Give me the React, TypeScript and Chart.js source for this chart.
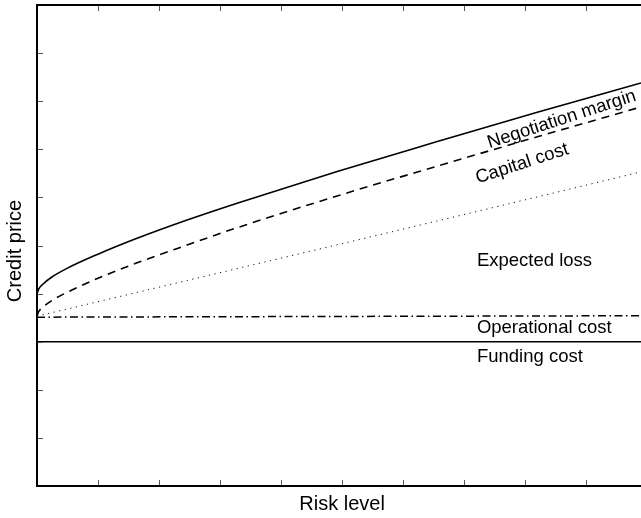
import React, { useEffect, useRef } from 'react';
import { Chart, registerables } from 'chart.js';

Chart.register(...registerables);

// ---- data ----
const riskPoints = [0, 0.03, 0.1, 0.25, 0.5, 1.0, 1.64, 2.46, 3.28, 4.92, 6.56, 8.2, 9.9];
const negotiationMargin = [4.0, 4.1, 4.2, 4.35, 4.53, 4.82, 5.15, 5.53, 5.88, 6.54, 7.16, 7.77, 8.38];
const capitalCost = [3.53, 3.63, 3.72, 3.86, 4.03, 4.32, 4.64, 5.01, 5.37, 6.03, 6.65, 7.26, 7.88];
const lossPoints = [0, 3.28, 6.56, 9.9];
const expectedLoss = [3.53, 4.52, 5.51, 6.53];
const flatPoints = [0, 9.9];
const operationalCost = [3.51, 3.54];
const fundingCost = [3.0, 3.0];
const xTicks = [1, 2, 3, 4, 5, 6, 7, 8, 9];
const yTicks = [0, 1, 2, 3, 4, 5, 6, 7, 8, 9, 10];
const xTitle = 'Risk level';
const yTitle = 'Credit price';

// annotation texts (placement kept separately)
const labelTexts = ['Negotiation margin', 'Capital cost', 'Expected loss', 'Operational cost', 'Funding cost'];
const labelPlacement = [
  { x: 8.6, y: 7.62, rot: -18, align: 'center' },
  { x: 7.95, y: 6.7, rot: -18, align: 'center' },
  { x: 7.21, y: 4.68, rot: 0, align: 'left' },
  { x: 7.21, y: 3.28, rot: 0, align: 'left' },
  { x: 7.21, y: 2.69, rot: 0, align: 'left' },
];

const W = 641;
const H = 518;
const FONT = '"Liberation Sans", Arial, Helvetica, sans-serif';

const pts = (xs: number[], ys: number[]) => xs.map((x, i) => ({ x, y: ys[i] }));

const framePlugin = {
  id: 'frame',
  afterDraw(chart: any) {
    const { ctx, chartArea, scales } = chart;
    const { left, top, right, bottom } = chartArea;
    const xs = scales.x;
    const ys = scales.y;
    ctx.save();
    // ticks
    ctx.strokeStyle = '#555';
    ctx.lineWidth = 1;
    ctx.beginPath();
    yTicks.forEach((v) => {
      const py = Math.round(ys.getPixelForValue(v)) + 0.5;
      ctx.moveTo(left, py);
      ctx.lineTo(left + 6, py);
    });
    xTicks.forEach((v) => {
      const px = Math.round(xs.getPixelForValue(v)) + 0.5;
      ctx.moveTo(px, bottom);
      ctx.lineTo(px, bottom - 6);
      ctx.moveTo(px, top);
      ctx.lineTo(px, top + 6);
    });
    ctx.stroke();
    // frame
    ctx.strokeStyle = '#000';
    ctx.lineWidth = 2;
    ctx.beginPath();
    ctx.moveTo(right + 2, top);
    ctx.lineTo(left, top);
    ctx.lineTo(left, bottom);
    ctx.lineTo(right + 2, bottom);
    ctx.stroke();
    // axis titles
    ctx.fillStyle = '#000';
    ctx.font = `20px ${FONT}`;
    ctx.textAlign = 'center';
    ctx.textBaseline = 'middle';
    ctx.fillText(xTitle, xs.getPixelForValue(5), 504);
    ctx.save();
    ctx.translate(15, 251);
    ctx.rotate(-Math.PI / 2);
    ctx.fillText(yTitle, 0, 0);
    ctx.restore();
    // annotations
    ctx.font = `18.5px ${FONT}`;
    labelTexts.forEach((t, i) => {
      const p = labelPlacement[i];
      ctx.save();
      ctx.translate(xs.getPixelForValue(p.x), ys.getPixelForValue(p.y));
      ctx.rotate((p.rot * Math.PI) / 180);
      ctx.textAlign = p.align as CanvasTextAlign;
      ctx.textBaseline = 'middle';
      ctx.fillText(t, 0, 0);
      ctx.restore();
    });
    ctx.restore();
  },
};

export default function App() {
  const ref = useRef<HTMLCanvasElement | null>(null);
  useEffect(() => {
    if (!ref.current) return;
    const common = { pointRadius: 0, borderColor: '#000', fill: false, cubicInterpolationMode: 'monotone' as const };
    const chart = new Chart(ref.current, {
      type: 'line',
      data: {
        datasets: [
          { ...common, label: 'Negotiation margin', data: pts(riskPoints, negotiationMargin), borderWidth: 1.6 },
          { ...common, label: 'Capital cost', data: pts(riskPoints, capitalCost), borderWidth: 1.6, borderDash: [8, 6] },
          { ...common, label: 'Expected loss', data: pts(lossPoints, expectedLoss), borderWidth: 1, borderDash: [1.2, 4.5], borderColor: '#111' },
          { ...common, label: 'Operational cost', data: pts(flatPoints, operationalCost), borderWidth: 1.5, borderDash: [8, 3.5, 1.5, 3.5] },
          { ...common, label: 'Funding cost', data: pts(flatPoints, fundingCost), borderWidth: 1.6 },
        ],
      },
      options: {
        responsive: false,
        animation: false,
        layout: { padding: { left: 37, top: 5, right: 0, bottom: 32 } },
        plugins: { legend: { display: false }, tooltip: { enabled: false } },
        scales: {
          x: { type: 'linear', min: 0, max: 9.9, display: false },
          y: { type: 'linear', min: 0, max: 10, display: false },
        },
      },
      plugins: [framePlugin],
    });
    return () => chart.destroy();
  }, []);
  return (
    <div style={{ position: 'fixed', left: 0, top: 0, width: W, height: H, background: '#fff' }}>
      <canvas ref={ref} width={W} height={H} style={{ width: W, height: H, display: 'block' }} />
    </div>
  );
}
